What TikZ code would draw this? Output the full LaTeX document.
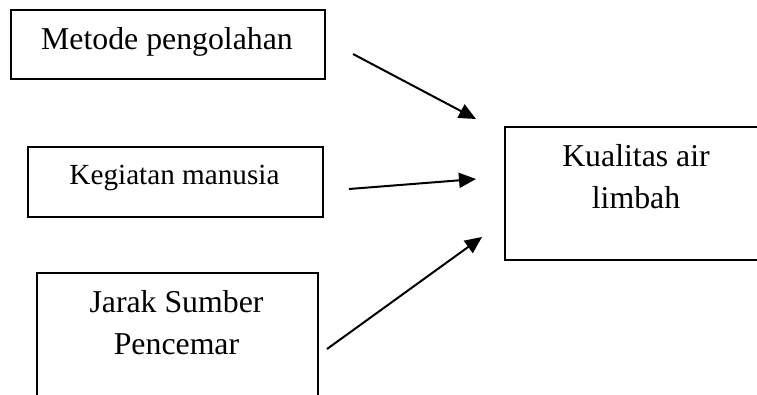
\documentclass[tikz,border=0pt]{standalone}
\usepackage{fontspec}
\setmainfont{Liberation Serif}
\usetikzlibrary{arrows.meta}
\begin{document}
\begin{tikzpicture}[x=1pt,y=-1pt,
  boxline/.style={draw, line width=2pt, anchor=north west, inner sep=0pt},
  lbl/.style={anchor=base, inner sep=0pt, font=\fontsize{31.8}{41.5}\selectfont, align=center},
  conn/.style={line width=2pt, -{Triangle[length=17pt,width=15pt]}}]
\useasboundingbox (0,0) rectangle (757,394);
\clip (0,0) rectangle (757,394);
% boxes
\node[boxline, minimum width=314.5pt, minimum height=69pt] (b1) at (9.5,9) {};
\node[boxline, minimum width=295pt, minimum height=70pt] (b2) at (27,146) {};
\node[boxline, minimum width=281pt, minimum height=148pt] (b3) at (36,272) {};
\node[boxline, minimum width=266pt, minimum height=133pt] (b4) at (504,126) {};
% labels
\node[lbl] (t1) at (167,49) {Metode pengolahan};
\node[lbl, font=\fontsize{29.2}{36}\selectfont] (t2) at (174.5,184) {Kegiatan manusia};
\node[lbl] (t3) at (176.5,354) {Jarak Sumber\\Pencemar};
\node[lbl] (t4) at (636,208) {Kualitas air\\limbah};
% arrow ends
\coordinate (s1) at (353,54);
\coordinate (e1) at (476,119);
\coordinate (s2) at (349,189);
\coordinate (e2) at (476,179);
\coordinate (s3) at (327,349);
\coordinate (e3) at (482,237);
\draw[conn] (s1) -- (e1);
\draw[conn] (s2) -- (e2);
\draw[conn] (s3) -- (e3);
\end{tikzpicture}
\end{document}
